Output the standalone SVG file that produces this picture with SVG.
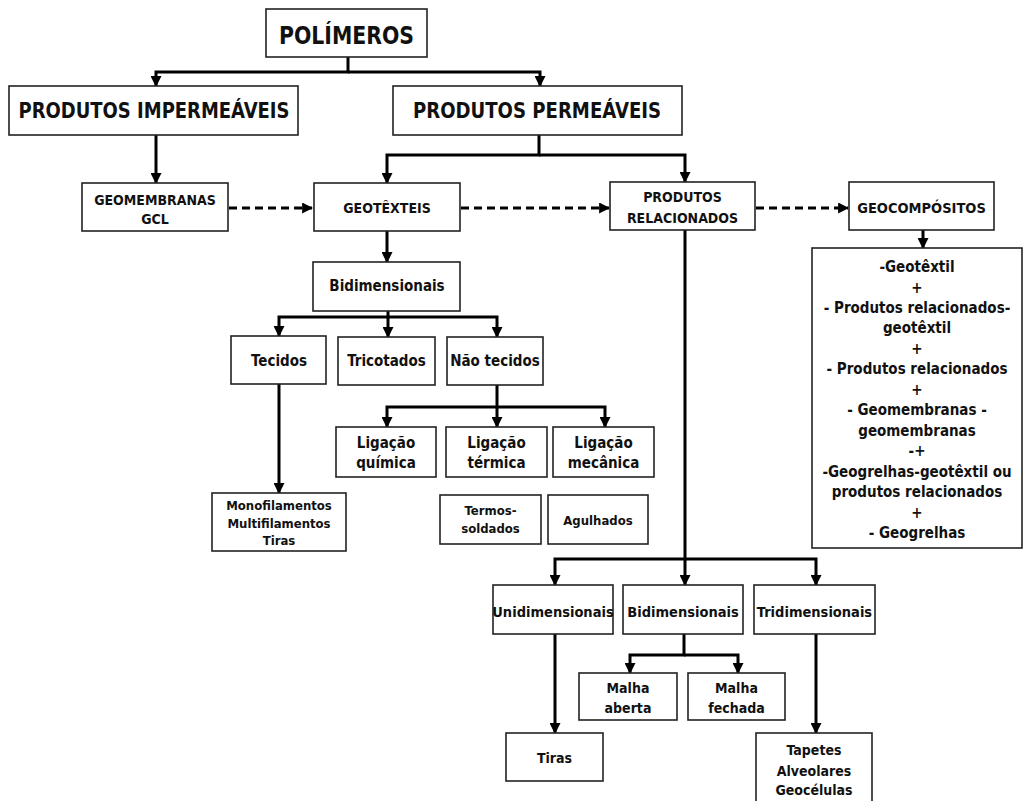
<svg xmlns="http://www.w3.org/2000/svg" width="1024" height="801" viewBox="0 0 1024 801">
<style>
.b{fill:#fff;stroke:#222;stroke-width:1.6}
text{font-family:"DejaVu Sans Condensed","DejaVu Sans",sans-serif;font-stretch:condensed;font-weight:bold;fill:#111;text-anchor:middle}
.t1{font-size:24px}
.t2{font-size:21px}
.s14{font-size:14px}
.s15{font-size:15px}
.s13{font-size:13px}
.c{fill:none;stroke:#000;stroke-width:3}
.d{fill:none;stroke:#000;stroke-width:3;stroke-dasharray:8 5}
</style>
<defs>
<marker id="ah" viewBox="0 0 10 10" refX="9" refY="5" markerWidth="11" markerHeight="11" markerUnits="userSpaceOnUse" orient="auto">
<path d="M0,0 L10,5 L0,10 z" fill="#000"/>
</marker>
</defs>
<rect width="1024" height="801" fill="#fff"/>
<g id="connectors">
<path class="c" d="M348,57 V72 H156 V86" marker-end="url(#ah)"/>
<path class="c" d="M348,72 H540 V86" marker-end="url(#ah)"/>
<path class="c" d="M156,135 V183" marker-end="url(#ah)"/>
<path class="c" d="M539,135 V155 H387 V183" marker-end="url(#ah)"/>
<path class="c" d="M539,155 H685 V182" marker-end="url(#ah)"/>
<path class="d" d="M229,208 H312" marker-end="url(#ah)"/>
<path class="d" d="M461,208 H609" marker-end="url(#ah)"/>
<path class="d" d="M756,208 H848" marker-end="url(#ah)"/>
<path class="c" d="M923,230 V248" marker-end="url(#ah)"/>
<path class="c" d="M387,231 V262" marker-end="url(#ah)"/>
<path class="c" d="M388,311 V317 H279 V336" marker-end="url(#ah)"/>
<path class="c" d="M388,317 V337" marker-end="url(#ah)"/>
<path class="c" d="M388,317 H497 V337" marker-end="url(#ah)"/>
<path class="c" d="M279,384 V493" marker-end="url(#ah)"/>
<path class="c" d="M497,385 V407 H387 V427" marker-end="url(#ah)"/>
<path class="c" d="M497,407 V427" marker-end="url(#ah)"/>
<path class="c" d="M497,407 H605 V427" marker-end="url(#ah)"/>
<path class="c" d="M685,230 V559 H555 V585" marker-end="url(#ah)"/>
<path class="c" d="M685,559 V585" marker-end="url(#ah)"/>
<path class="c" d="M685,559 H816 V585" marker-end="url(#ah)"/>
<path class="c" d="M555,634 V733" marker-end="url(#ah)"/>
<path class="c" d="M684,634 V655 H630 V673" marker-end="url(#ah)"/>
<path class="c" d="M684,655 H738 V673" marker-end="url(#ah)"/>
<path class="c" d="M816,634 V733" marker-end="url(#ah)"/>
</g>
<g id="n-polimeros"><rect class="b" x="266" y="9" width="161" height="48"/><text class="t1" x="346.5" y="44" textLength="135" lengthAdjust="spacingAndGlyphs">POLÍMEROS</text></g>
<g id="n-impermeaveis"><rect class="b" x="9" y="86" width="289" height="49"/><text class="t2" x="154" y="118" textLength="271" lengthAdjust="spacingAndGlyphs">PRODUTOS IMPERMEÁVEIS</text></g>
<g id="n-permeaveis"><rect class="b" x="393" y="86" width="289" height="49"/><text class="t2" x="537" y="118" textLength="248" lengthAdjust="spacingAndGlyphs">PRODUTOS PERMEÁVEIS</text></g>
<g id="n-geomembranas"><rect class="b" x="82" y="183" width="146" height="48"/><text class="s14" x="155" y="205">GEOMEMBRANAS</text><text class="s14" x="155" y="224">GCL</text></g>
<g id="n-geotexteis"><rect class="b" x="314" y="183" width="146" height="48"/><text class="s14" x="387" y="213">GEOTÊXTEIS</text></g>
<g id="n-relacionados"><rect class="b" x="610" y="182" width="145" height="48"/><text class="s14" x="682.5" y="202">PRODUTOS</text><text class="s14" x="682.5" y="223">RELACIONADOS</text></g>
<g id="n-geocompositos"><rect class="b" x="849" y="182" width="145" height="48"/><text class="s14" x="921.5" y="213" style="font-size:14.5px">GEOCOMPÓSITOS</text></g>
<g id="n-geocomp-lista"><rect class="b" x="812" y="248" width="210" height="300"/>
<text class="s15" x="917" y="272">-Geotêxtil</text>
<text class="s15" x="917" y="292.5">+</text>
<text class="s15" x="917" y="313">- Produtos relacionados-</text>
<text class="s15" x="917" y="333.4">geotêxtil</text>
<text class="s15" x="917" y="353.8">+</text>
<text class="s15" x="917" y="374.3">- Produtos relacionados</text>
<text class="s15" x="917" y="394.8">+</text>
<text class="s15" x="917" y="415.2">- Geomembranas -</text>
<text class="s15" x="917" y="435.7">geomembranas</text>
<text class="s15" x="917" y="456.1">-+</text>
<text class="s15" x="917" y="476.6">-Geogrelhas-geotêxtil ou</text>
<text class="s15" x="917" y="497">produtos relacionados</text>
<text class="s15" x="917" y="517.5">+</text>
<text class="s15" x="917" y="538">- Geogrelhas</text>
</g>
<g id="n-bidim1"><rect class="b" x="313" y="262" width="147" height="49"/><text class="s15" x="387" y="291">Bidimensionais</text></g>
<g id="n-tecidos"><rect class="b" x="231" y="336" width="95" height="48"/><text class="s15" x="279" y="366">Tecidos</text></g>
<g id="n-tricotados"><rect class="b" x="338" y="337" width="97" height="48"/><text class="s15" x="386.5" y="366">Tricotados</text></g>
<g id="n-naotecidos"><rect class="b" x="447" y="337" width="96" height="48"/><text class="s15" x="495" y="366">Não tecidos</text></g>
<g id="n-quimica"><rect class="b" x="336" y="427" width="100" height="50"/><text class="s15" x="386" y="448">Ligação</text><text class="s15" x="386" y="468">química</text></g>
<g id="n-termica"><rect class="b" x="446" y="427" width="101" height="50"/><text class="s15" x="496.5" y="448">Ligação</text><text class="s15" x="496.5" y="468">térmica</text></g>
<g id="n-mecanica"><rect class="b" x="553" y="427" width="101" height="50"/><text class="s15" x="603.5" y="448">Ligação</text><text class="s15" x="603.5" y="468">mecânica</text></g>
<g id="n-monofil"><rect class="b" x="212" y="493" width="134" height="58"/><text class="s13" x="279" y="510">Monofilamentos</text><text class="s13" x="279" y="527.5">Multifilamentos</text><text class="s13" x="279" y="545">Tiras</text></g>
<g id="n-termos"><rect class="b" x="440" y="495" width="101" height="49"/><text class="s13" x="490.5" y="515">Termos-</text><text class="s13" x="490.5" y="533">soldados</text></g>
<g id="n-agulhados"><rect class="b" x="548" y="495" width="100" height="49"/><text class="s13" x="598" y="525">Agulhados</text></g>
<g id="n-unidim"><rect class="b" x="493" y="585" width="120" height="49"/><text class="s14" x="553" y="617" style="font-size:14.5px">Unidimensionais</text></g>
<g id="n-bidim2"><rect class="b" x="623" y="585" width="120" height="49"/><text class="s14" x="683" y="617" style="font-size:14.5px">Bidimensionais</text></g>
<g id="n-tridim"><rect class="b" x="754" y="585" width="121" height="49"/><text class="s14" x="814.5" y="617" style="font-size:14.5px">Tridimensionais</text></g>
<g id="n-aberta"><rect class="b" x="579" y="673" width="98" height="47"/><text class="s14" x="628" y="693">Malha</text><text class="s14" x="628" y="713">aberta</text></g>
<g id="n-fechada"><rect class="b" x="688" y="673" width="97" height="47"/><text class="s14" x="736.5" y="693">Malha</text><text class="s14" x="736.5" y="713">fechada</text></g>
<g id="n-tiras"><rect class="b" x="506" y="733" width="97" height="48"/><text class="s14" x="554.5" y="763">Tiras</text></g>
<g id="n-tapetes"><rect class="b" x="756" y="733" width="116" height="72"/><text class="s14" x="814" y="755">Tapetes</text><text class="s14" x="814" y="776">Alveolares</text><text class="s14" x="814" y="795">Geocélulas</text></g>
</svg>
